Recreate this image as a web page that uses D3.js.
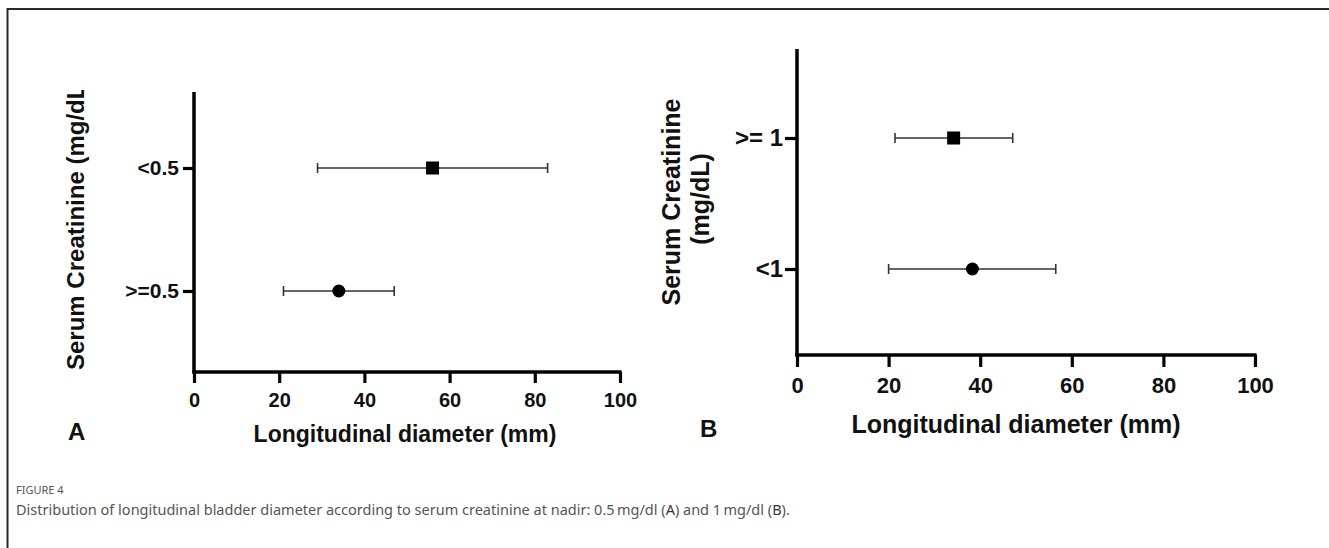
<!DOCTYPE html>
<html>
<head>
<meta charset="utf-8">
<script src="https://cdn.jsdelivr.net/npm/d3@7"></script>
<style>
  html, body { margin: 0; padding: 0; background: #fff; overflow: hidden; }
  .tick text, .lab { font-family: "Liberation Sans", Arial, sans-serif; font-weight: bold; fill: #111; }
  .cap { font-family: "Noto Sans", "Open Sans", sans-serif; fill: #555; }
</style>
</head>
<body>
<svg id="fig" width="1329" height="548"></svg>
<script>
// ---- data ----
var xTicks = [0, 20, 40, 60, 80, 100];

// panel A : cut-off 0.5 mg/dL (listed bottom -> top)
var groupsA = [">=0.5", "<0.5"];
var meanA   = [34, 56];
var lowA    = [21, 29];
var highA   = [47, 83];
var markA   = ["circle", "square"];

// panel B : cut-off 1 mg/dL (listed bottom -> top)
var groupsB = ["<1", ">= 1"];
var meanB   = [38.3, 34.2];
var lowB    = [20, 21.4];
var highB   = [56.5, 47.1];
var markB   = ["circle", "square"];

var svg = d3.select('#fig');

// outer frame (only left and top visible)
svg.append('rect')
    .attr('x', 7.5).attr('y', 9)
    .attr('width', 1400).attr('height', 600)
    .attr('fill', 'none').attr('stroke', '#2a2a2a').attr('stroke-width', 2);

var drawPanel = function(p)
{
    var g = svg.append('g');

    var x = d3.scaleLinear().domain([0, 100]).range([p.left, p.right]);
    var y = d3.scalePoint().domain(p.groups).range([p.ylo, p.yhi]);

    // x axis
    var xa = g.append('g')
        .attr('transform', 'translate(0,' + p.bottom + ')')
        .call(d3.axisBottom(x).tickValues(xTicks).tickSize(p.tick).tickSizeOuter(0).tickPadding(p.xpad));
    xa.select('.domain').remove();
    xa.selectAll('.tick line').attr('stroke', '#000').attr('stroke-width', 3.2);
    xa.selectAll('.tick text').style('font-size', p.xfont + 'px').attr('fill', '#111');

    // y axis
    var ya = g.append('g')
        .attr('transform', 'translate(' + p.left + ',0)')
        .call(d3.axisLeft(y).tickSize(p.tick).tickSizeOuter(0).tickPadding(p.ypad));
    ya.select('.domain').remove();
    ya.selectAll('.tick line').attr('stroke', '#000').attr('stroke-width', 3.2);
    ya.selectAll('.tick text').style('font-size', p.yfont + 'px').attr('fill', '#111');

    // axis lines
    g.append('line')
        .attr('x1', p.left).attr('x2', p.left)
        .attr('y1', p.top).attr('y2', p.bottom + 1.6)
        .attr('stroke', '#000').attr('stroke-width', 3.5);
    g.append('line')
        .attr('x1', p.left - 1.6).attr('x2', x(100) + 1.6)
        .attr('y1', p.bottom).attr('y2', p.bottom)
        .attr('stroke', '#000').attr('stroke-width', 3.5);

    var rows = p.groups.map(function(d, i) {
        return { g: d, m: p.mean[i], lo: p.low[i], hi: p.high[i], mk: p.mark[i] };
    });

    // error bars
    g.selectAll('.bar').data(rows).enter().append('line')
        .attr('x1', function(d) { return x(d.lo); })
        .attr('x2', function(d) { return x(d.hi); })
        .attr('y1', function(d) { return y(d.g); })
        .attr('y2', function(d) { return y(d.g); })
        .attr('stroke', '#333').attr('stroke-width', 1.6);
    [ 'lo', 'hi' ].forEach(function(k) {
        g.selectAll('.cap' + k).data(rows).enter().append('line')
            .attr('x1', function(d) { return x(d[k]); })
            .attr('x2', function(d) { return x(d[k]); })
            .attr('y1', function(d) { return y(d.g) - 5; })
            .attr('y2', function(d) { return y(d.g) + 5; })
            .attr('stroke', '#333').attr('stroke-width', 1.6);
    });

    // markers
    g.selectAll('.sq').data(rows.filter(function(d) { return d.mk == 'square'; })).enter()
        .append('rect')
        .attr('x', function(d) { return x(d.m) - 6.5; })
        .attr('y', function(d) { return y(d.g) - 6.5; })
        .attr('width', 13).attr('height', 13).attr('fill', '#000');
    g.selectAll('.ci').data(rows.filter(function(d) { return d.mk == 'circle'; })).enter()
        .append('circle')
        .attr('cx', function(d) { return x(d.m); })
        .attr('cy', function(d) { return y(d.g); })
        .attr('r', 6.5).attr('fill', '#000');

    // x title
    g.append('text').attr('class', 'lab')
        .attr('x', p.xtx).attr('y', p.xty)
        .style('font-size', p.tfont + 'px')
        .attr('text-anchor', 'middle')
        .text('Longitudinal diameter (mm)');

    // panel letter
    g.append('text').attr('class', 'lab')
        .attr('x', p.lx).attr('y', p.ly)
        .style('font-size', '24px')
        .text(p.letter);

    return g;
};

var gA = drawPanel({
    groups: groupsA, mean: meanA, low: lowA, high: highA, mark: markA,
    left: 194, right: 620, top: 92, bottom: 372, ylo: 291, yhi: 168,
    tick: 11, xpad: 10, ypad: 4, xfont: 20, yfont: 21, tfont: 23,
    xtx: 405, xty: 442, lx: 68, ly: 440, letter: 'A'
});

var gB = drawPanel({
    groups: groupsB, mean: meanB, low: lowB, high: highB, mark: markB,
    left: 797, right: 1255, top: 49, bottom: 355, ylo: 269, yhi: 138,
    tick: 12, xpad: 10, ypad: 2, xfont: 22, yfont: 24, tfont: 25,
    xtx: 1016, xty: 433, lx: 700, ly: 437, letter: 'B'
});

// y titles (panel A title is cut off at the top in the source)
svg.append('clipPath').attr('id', 'clipA')
    .append('rect').attr('x', 0).attr('y', 90).attr('width', 200).attr('height', 400);
svg.append('g').attr('clip-path', 'url(#clipA)')
    .append('text').attr('class', 'lab')
    .attr('transform', 'translate(84,370) rotate(-90)')
    .style('font-size', '24px')
    .text('Serum Creatinine (mg/dL)');

svg.append('text').attr('class', 'lab')
    .attr('transform', 'translate(680,202) rotate(-90)')
    .attr('text-anchor', 'middle')
    .style('font-size', '25px')
    .text('Serum Creatinine');
svg.append('text').attr('class', 'lab')
    .attr('transform', 'translate(709,199) rotate(-90)')
    .attr('text-anchor', 'middle')
    .style('font-size', '25px')
    .text('(mg/dL)');

// caption
svg.append('text').attr('class', 'cap')
    .attr('x', 16).attr('y', 494)
    .style('font-size', '11px')
    .text('FIGURE 4');
var cap = svg.append('text').attr('class', 'cap')
    .attr('x', 16).attr('y', 515)
    .style('font-size', '14.5px');
cap.append('tspan').text('Distribution of longitudinal bladder diameter according to serum creatinine at nadir: 0.5\u2009mg/dl (');
cap.append('tspan').attr('fill', '#333').text('A');
cap.append('tspan').text(') and 1\u2009mg/dl (');
cap.append('tspan').attr('fill', '#333').text('B');
cap.append('tspan').text(').');
</script>
</body>
</html>
